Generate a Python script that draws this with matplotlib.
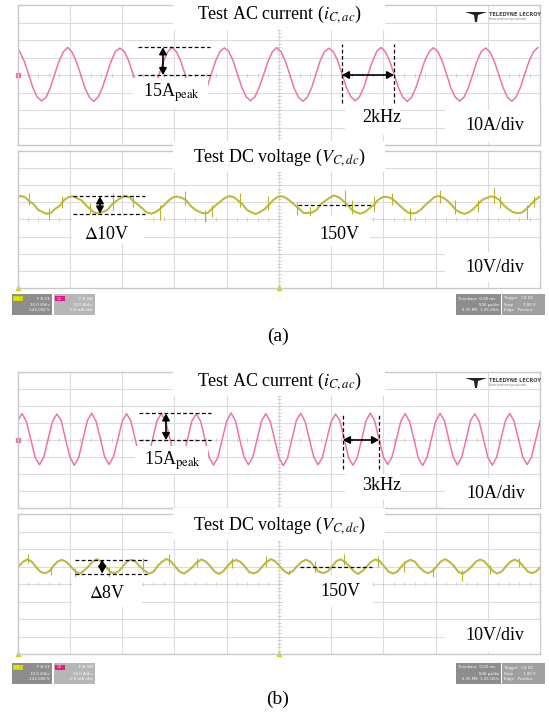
import matplotlib.pyplot as plt
import numpy as np
from matplotlib.patches import Rectangle, FancyArrowPatch, Polygon
from matplotlib.lines import Line2D

plt.rcParams['font.family'] = ['Liberation Serif', 'DejaVu Serif']
plt.rcParams['mathtext.fontset'] = 'stix'

# scope settings: 500 us/div, 10 div across, 8 div high
TIME_DIV = 0.5      # ms / div
AMP_DIV = 10.0      # A / div
VOLT_DIV = 10.0     # V / div
DT = 0.5 / 12       # ms between the points

PINK = '#ee72ae'
OLIVE = '#bab22c'

# ---------------- (a) 2 kHz test ----------------
ac_a_t0 = -2.52
ac_a = [
    15.6, 13.4, 8.1, 0.6, -7.2, -12.6, -14.8, -12.9, -7.4, 0.3, 7.8, 13.2,
    15.8, 13.1, 7.6, 0.2, -7.5, -12.8, -15.1, -12.6, -7.1, 0.5, 8.0, 13.6,
    15.4, 13.5, 8.2, 0.7, -7.0, -12.4, -14.9, -12.7, -7.3, 0.4, 7.9, 13.3,
    15.9, 13.2, 7.8, 0.1, -7.6, -12.9, -15.2, -12.8, -7.2, 0.6, 8.1, 13.5,
    15.5, 13.6, 8.0, 0.5, -7.1, -12.5, -14.7, -12.5, -7.0, 0.2, 7.7, 13.1,
    15.7, 13.3, 7.9, 0.4, -7.4, -12.7, -15.0, -12.9, -7.5, 0.3, 8.2, 13.4,
    15.3, 13.4, 8.3, 0.8, -7.0, -12.3, -14.8, -12.6, -7.2, 0.5, 7.8, 13.6,
    15.8, 13.1, 7.7, 0.2, -7.5, -12.8, -15.1, -12.7, -7.1, 0.4, 8.0, 13.2,
    15.6, 13.5, 8.1, 0.6, -7.2, -12.6, -14.9, -12.8, -7.4, 0.1, 7.9, 13.5,
    15.4, 13.2, 7.8, 0.3, -7.3, -12.7, -15.0, -12.5, -7.0, 0.6, 8.1, 13.3,
    15.7,
]
dc_a_t0 = -2.512
dc_a_center = 141.5
dc_a = [
    154.1, 155.3, 154.6, 152.2, 150.4, 147.2, 145.9, 144.8, 145.5, 147.8, 149.6, 152.9,
    154.6, 155.0, 153.9, 152.7, 149.8, 147.6, 145.4, 145.2, 146.0, 147.3, 150.3, 152.4,
    154.0, 155.4, 154.4, 152.0, 150.1, 147.9, 145.6, 144.9, 145.8, 147.6, 149.9, 152.6,
    154.5, 154.9, 154.2, 152.8, 149.6, 147.4, 146.0, 145.1, 145.4, 147.9, 150.2, 152.3,
    154.2, 155.2, 154.5, 152.4, 150.3, 147.1, 145.7, 144.7, 145.9, 147.5, 150.0, 152.8,
    154.7, 155.1, 154.0, 152.1, 149.9, 147.7, 145.3, 145.3, 145.6, 147.2, 150.4, 152.5,
    154.3, 155.5, 154.6, 152.6, 150.2, 147.3, 145.8, 144.9, 145.7, 147.8, 149.7, 152.7,
    154.4, 154.8, 154.1, 152.3, 149.8, 147.5, 145.5, 145.0, 145.5, 147.4, 150.1, 152.2,
    154.6, 155.2, 154.3, 152.5, 150.0, 147.0, 145.6, 144.8, 145.8, 147.7, 150.3, 152.9,
    154.1, 155.0, 154.5, 152.8, 149.7, 147.6, 145.9, 145.2, 145.4, 147.3, 149.8, 152.4,
    154.5, 155.3,
]
spike_a_t = [-2.39, -2.20, -2.07, -1.81, -1.59, -1.39, -1.14, -0.90, -0.71, -0.64, -0.37, -0.10, 0.17,
             0.30, 0.63, 0.70, 0.91, 1.08, 1.26, 1.54, 1.69, 1.91, 2.06, 2.12, 2.38, 2.44]
spike_a_lo = [150, 142, 148, 144, 147, 149, 141, 150, 140, 143, 149, 147, 144,
              142, 149, 145, 146, 150, 141, 151, 145, 146, 151, 148, 142, 149]
spike_a_hi = [157, 148, 155, 151, 157, 156, 150, 158, 147, 150, 157, 155, 152,
              149, 159, 153, 155, 157, 148, 159, 153, 153, 160, 155, 150, 155]
# annotation levels / times (a)
peak_a = [0.0, 15.8]           # A
peak_a_t = [-1.347, -0.658]    # ms
peak_a_arrow_t = -1.108
period_a_t = [0.605, 1.103]    # one period of 2 kHz
period_a_y = [-16.0, 18.0]
ripple_a = [145.0, 155.0]      # V
ripple_a_t = [-1.969, -1.278]
ripple_a_arrow_t = -1.711
dc_a_mean = 150.0
dc_a_mean_t = [0.184, 0.892]

# ---------------- (b) 3 kHz test ----------------
ac_b_t0 = -2.540
ac_b = [
    0.4, 11.2, 15.6, 10.9, 0.6, -10.3, -14.6, -10.0,
    0.7, 11.0, 15.3, 11.3, 0.3, -10.0, -14.9, -10.4,
    0.5, 11.4, 15.8, 11.0, 0.8, -10.2, -14.4, -9.8,
    0.2, 10.9, 15.5, 11.2, 0.4, -10.5, -15.0, -10.1,
    0.6, 11.3, 15.7, 10.8, 0.5, -9.9, -14.7, -10.3,
    0.3, 11.1, 15.4, 11.1, 0.7, -10.4, -14.8, -10.2,
    0.8, 11.0, 15.9, 11.4, 0.2, -10.1, -14.5, -9.9,
    0.4, 11.2, 15.5, 10.9, 0.6, -10.3, -15.1, -10.4,
    0.5, 11.5, 15.6, 11.0, 0.3, -10.0, -14.6, -10.1,
    0.6, 10.8, 15.3, 11.2, 0.8, -10.6, -14.9, -10.2,
    0.3, 11.3, 15.8, 11.1, 0.4, -10.2, -14.4, -9.8,
    0.7, 11.1, 15.5, 10.9, 0.5, -10.4, -15.0, -10.3,
    0.4, 11.0, 15.7, 11.3, 0.6, -10.1, -14.7, -10.0,
    0.5, 11.4, 15.4, 11.0, 0.2, -10.3, -14.8, -10.2,
    0.6, 11.2, 15.6, 11.1, 0.7, -10.0, -14.5, -10.1,
    0.4, 11.1,
]
dc_b_t0 = -2.532
dc_b_center = 140.0
dc_b = [
    147.4, 150.2, 152.6, 154.1, 152.9, 149.8, 147.0, 146.1,
    147.1, 150.3, 152.9, 153.8, 152.6, 150.1, 147.3, 145.8,
    147.5, 149.9, 152.7, 154.2, 152.7, 150.2, 146.9, 146.2,
    147.2, 150.1, 153.0, 153.9, 152.5, 149.7, 147.4, 145.9,
    147.0, 150.4, 152.8, 154.3, 153.0, 150.0, 147.1, 146.0,
    147.6, 149.8, 152.5, 154.0, 152.8, 150.3, 147.2, 145.7,
    147.3, 150.2, 152.9, 153.7, 152.6, 149.9, 146.8, 146.1,
    147.1, 150.0, 152.7, 154.2, 152.9, 150.1, 147.5, 145.9,
    147.4, 150.3, 152.6, 153.9, 152.7, 149.8, 147.0, 146.2,
    147.2, 149.9, 153.1, 154.1, 152.5, 150.2, 147.3, 145.8,
    147.5, 150.1, 152.8, 154.0, 153.0, 150.0, 147.1, 146.0,
    147.0, 150.2, 152.6, 153.8, 152.8, 149.7, 147.4, 146.1,
    147.3, 150.0, 152.9, 154.2, 152.6, 150.3, 146.9, 145.9,
    147.6, 149.8, 152.7, 154.0, 152.9, 150.1, 147.2, 146.0,
    147.2, 150.3, 152.8, 153.9, 152.7, 149.9, 147.0, 146.2,
    147.4, 150.1,
]
spike_b_t = [-2.40, -2.18, -1.95, -1.62, -1.30, -1.05, -0.78, -0.45, -0.12,
             0.10, 0.35, 0.62, 0.95, 1.20, 1.48, 1.75, 2.02, 2.30]
spike_b_lo = [152, 145, 143, 144, 147, 151, 150, 149, 150, 143, 147, 151, 150, 147, 144, 142, 146, 150]
spike_b_hi = [157, 150, 149, 150, 155, 157, 155, 155, 156, 148, 153, 157, 156, 153, 149, 148, 151, 155]
peak_b = [0.0, 15.6]
peak_b_t = [-1.337, -0.646]
peak_b_arrow_t = -1.079
period_b_t = [0.615, 0.959]    # one period of 3 kHz
period_b_y = [-17.0, 16.0]
ripple_b = [146.0, 154.0]
ripple_b_t = [-1.950, -1.260]
ripple_b_arrow_t = -1.690
dc_b_mean = 150.0
dc_b_mean_t = [0.200, 0.890]

W, H = 549, 717
fig = plt.figure(figsize=(W / 100, H / 100), dpi=100)


def fx(x):
    return x / W


def fy(y):
    return 1 - y / H


def scope_axes(x, y, w, h, center, per_div):
    ax = fig.add_axes([fx(x), fy(y + h), w / W, h / H])
    ax.set_xlim(-5 * TIME_DIV, 5 * TIME_DIV)
    ax.set_ylim(center - 4 * per_div, center + 4 * per_div)
    ax.set_xticks([])
    ax.set_yticks([])
    for s in ax.spines.values():
        s.set_color('#c8c8c8')
        s.set_linewidth(1.0)
    for k in range(1, 10):
        ax.axvline((k - 5) * TIME_DIV, color='#dcdcdc', lw=0.8, zorder=0)
    for k in range(1, 8):
        ax.axhline(center + (k - 4) * per_div, color='#dcdcdc', lw=0.8, zorder=0)
    # small marks on the centre cross
    tx = np.arange(-25, 26) * TIME_DIV / 5
    ax.plot(tx, np.full(tx.size, center), ls='none', marker='|', ms=2.2, mew=0.6, color='#cacaca', zorder=0)
    ty = center + np.arange(-20, 21) * per_div / 5
    ax.plot(np.zeros(ty.size), ty, ls='none', marker='_', ms=2.2, mew=0.6, color='#cacaca', zorder=0)
    return ax


def white_box(x, y, w, h):
    fig.add_artist(Rectangle((fx(x), fy(y + h)), w / W, h / H, transform=fig.transFigure,
                             facecolor='white', edgecolor='none', zorder=1))


def dashed(ax, xs, ys):
    fig.add_artist(Line2D(xs, ys, transform=ax.transData, color='black', lw=0.9,
                          ls=(0, (3, 2)), zorder=2))


def double_arrow(ax, p0, p1):
    fig.add_artist(FancyArrowPatch(p0, p1, transform=ax.transData,
                                   arrowstyle='<|-|>,head_length=4,head_width=2.2',
                                   color='black', lw=1.2, shrinkA=0, shrinkB=0, zorder=2.5))


def label(x, y, s, size=13):
    fig.text(fx(x), fy(y), s, ha='center', va='center', fontsize=size, zorder=3)


def logo(y):
    fig.add_artist(Polygon([[fx(465), fy(y)], [fx(487), fy(y)], [fx(478), fy(y + 3)],
                            [fx(477), fy(y + 10)], [fx(475), fy(y + 10)], [fx(474), fy(y + 3)]],
                           closed=True, transform=fig.transFigure, facecolor='#222222',
                           edgecolor='none', zorder=3))
    fig.text(fx(489), fy(y + 2), 'TELEDYNE LECROY', fontsize=3.6, family='DejaVu Sans',
             weight='bold', color='#444444', va='center', zorder=3)
    fig.text(fx(489), fy(y + 7), 'Everywhereyoulook', fontsize=2.8, family='DejaVu Sans',
             color='#888888', va='center', zorder=3)


def info_bar(y, ch1_ofs):
    for x, w, c in [(12, 40, '#8d8d8d'), (54, 41, '#b6b6b6'), (456, 45, '#8d8d8d'), (502, 43, '#a0a0a0')]:
        fig.add_artist(Rectangle((fx(x), fy(y + 21)), w / W, 21 / H, transform=fig.transFigure,
                                 facecolor=c, edgecolor='none', zorder=1))
    fig.add_artist(Rectangle((fx(13), fy(y + 7)), 10 / W, 5 / H, transform=fig.transFigure,
                             facecolor='#d8d400', edgecolor='none', zorder=1.5))
    fig.add_artist(Rectangle((fx(55), fy(y + 7)), 10 / W, 5 / H, transform=fig.transFigure,
                             facecolor='#e8168c', edgecolor='none', zorder=1.5))
    small = dict(fontsize=2.8, family='DejaVu Sans', color='white', zorder=3, va='center')
    fig.text(fx(15), fy(y + 4.5), 'C1', **small)
    fig.text(fx(57), fy(y + 4.5), 'C2', **small)
    fig.text(fx(50), fy(y + 4.5), 'F B O1', ha='right', **small)
    fig.text(fx(50), fy(y + 11), '10.0 V/div', ha='right', **small)
    fig.text(fx(50), fy(y + 16), ch1_ofs, ha='right', **small)
    fig.text(fx(93), fy(y + 4.5), 'F B 3W', ha='right', **small)
    fig.text(fx(93), fy(y + 11), '10.0 A/div', ha='right', **small)
    fig.text(fx(93), fy(y + 16), '0.0 mA ofst', ha='right', **small)
    fig.text(fx(458), fy(y + 4.5), 'Timebase  0.00 ms', **small)
    fig.text(fx(499), fy(y + 11), '500 µs/div', ha='right', **small)
    fig.text(fx(499), fy(y + 16), '6.25 MS  1.25 GS/s', ha='right', **small)
    fig.text(fx(504), fy(y + 4.5), 'Trigger   C4 DC', **small)
    fig.text(fx(504), fy(y + 11), 'Stop        1.00 V', **small)
    fig.text(fx(504), fy(y + 16), 'Edge   Positive', **small)


def panel(top, ac_t0, ac, dc_t0, dc, dc_center, sp_t, sp_lo, sp_hi, grid_h):
    ax_ac = scope_axes(17.5, top, 522.5, grid_h[0], 0.0, AMP_DIV)
    ax_dc = scope_axes(17.5, top + grid_h[0] + 6, 522.5, grid_h[1], dc_center, VOLT_DIV)
    t_ac = ac_t0 + DT * np.arange(len(ac))
    ax_ac.plot(t_ac, ac, color=PINK, lw=1.1, zorder=2)
    t_dc = dc_t0 + DT * np.arange(len(dc))
    ax_dc.plot(t_dc, dc, color=OLIVE, lw=1.5, alpha=0.9, zorder=2)
    ax_dc.vlines(sp_t, sp_lo, sp_hi, color=OLIVE, lw=0.8, zorder=2)
    # channel / trigger markers
    ax_ac.plot([-2.5], [0], marker='s', ms=2.5, color=PINK, clip_on=False)
    ax_dc.plot([-2.5], [dc_center - 4 * VOLT_DIV], marker='^', ms=3, color='#d8d400', clip_on=False)
    ax_dc.plot([0], [dc_center - 4 * VOLT_DIV], marker='^', ms=3, color='#d8d400', clip_on=False)
    return ax_ac, ax_dc


# ---------- panel (a) ----------
a_ac, a_dc = panel(5, ac_a_t0, ac_a, dc_a_t0, dc_a, dc_a_center,
                   spike_a_t, spike_a_lo, spike_a_hi, (140, 137))
for box in [(173, 0, 212, 30), (133, 78, 75, 30), (345, 105, 55, 30), (445, 110, 95, 32),
            (173, 141, 212, 31), (72, 214, 72, 30), (282, 216, 88, 30), (445, 252, 95, 30)]:
    white_box(*box)
for lvl in peak_a:
    dashed(a_ac, peak_a_t, [lvl, lvl])
double_arrow(a_ac, (peak_a_arrow_t, peak_a[0]), (peak_a_arrow_t, peak_a[1]))
for tt in period_a_t:
    dashed(a_ac, [tt, tt], period_a_y)
double_arrow(a_ac, (period_a_t[0], 0), (period_a_t[1], 0))
for lvl in ripple_a:
    dashed(a_dc, ripple_a_t, [lvl, lvl])
double_arrow(a_dc, (ripple_a_arrow_t, ripple_a[0]), (ripple_a_arrow_t, ripple_a[1]))
dashed(a_dc, dc_a_mean_t, [dc_a_mean, dc_a_mean])

label(279, 14, r'Test AC current ($i_{C,ac}$)')
label(172, 93, r'15A$_{\mathrm{peak}}$')
label(382, 118, '2kHz')
label(495, 126, '10A/div')
label(279, 157, r'Test DC voltage ($V_{C,dc}$)')
label(107, 234, r'$\Delta$10V')
label(339, 234, '150V')
label(495, 268, '10V/div')
logo(12)
info_bar(294, '-143.000 V')
label(278, 336, '(a)', size=14)

# ---------- panel (b) ----------
b_ac, b_dc = panel(372, ac_b_t0, ac_b, dc_b_t0, dc_b, dc_b_center,
                   spike_b_t, spike_b_lo, spike_b_hi, (136, 140))
for box in [(173, 364, 212, 32), (135, 446, 73, 28), (345, 474, 55, 26), (445, 478, 95, 30),
            (173, 508, 212, 32), (72, 577, 70, 30), (283, 575, 90, 32), (445, 622, 95, 30)]:
    white_box(*box)
for lvl in peak_b:
    dashed(b_ac, peak_b_t, [lvl, lvl])
double_arrow(b_ac, (peak_b_arrow_t, peak_b[0]), (peak_b_arrow_t, peak_b[1]))
for tt in period_b_t:
    dashed(b_ac, [tt, tt], period_b_y)
double_arrow(b_ac, (period_b_t[0], 0), (period_b_t[1], 0))
for lvl in ripple_b:
    dashed(b_dc, ripple_b_t, [lvl, lvl])
double_arrow(b_dc, (ripple_b_arrow_t, ripple_b[0]), (ripple_b_arrow_t, ripple_b[1]))
dashed(b_dc, dc_b_mean_t, [dc_b_mean, dc_b_mean])

label(279, 381, r'Test AC current ($i_{C,ac}$)')
label(173, 461, r'15A$_{\mathrm{peak}}$')
label(382, 486, '3kHz')
label(496, 493, '10A/div')
label(279, 525, r'Test DC voltage ($V_{C,dc}$)')
label(107, 594, r'$\Delta$8V')
label(340, 592, '150V')
label(495, 636, '10V/div')
logo(378)
info_bar(663, '-143.000 V')
label(278, 699, '(b)', size=14)

fig.savefig('out.png', dpi=100)
